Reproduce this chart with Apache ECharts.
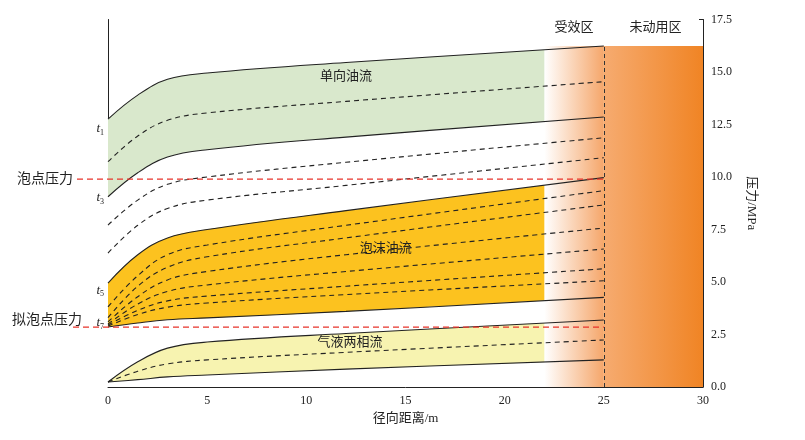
<!DOCTYPE html>
<html>
<head>
<meta charset="utf-8">
<script src="https://cdn.jsdelivr.net/npm/echarts@6/dist/echarts.min.js"></script>
<style>html,body{margin:0;background:#fff}#main{width:805px;height:440px}</style>
</head>
<body>
<div id="main"></div>
<script>
var FONT = '"Liberation Serif", "Noto Sans CJK SC", serif'
var xs = [0, 1.5, 3, 5, 12, 25]
// pressure curves (MPa) sampled at xs
var curveA = [12.76, 13.9, 14.65, 14.95, 15.45, 16.24]
var curveB = [10.73, 11.95, 12.7, 13.05, 13.6, 14.54]
var curveC = [9.06, 10.2, 10.95, 11.3, 11.9, 12.86]
var curveD = [7.71, 8.9, 9.65, 10.0, 10.7, 11.87]
var curveE = [6.38, 7.7, 8.5, 8.9, 9.6, 10.92]
var curveF = [4.95, 6.3, 7.1, 7.5, 8.4, 9.97]
var curveG = [3.82, 5.3, 6.3, 6.76, 7.7, 9.35]
var curveH = [3.3, 4.8, 5.7, 6.2, 7.1, 8.67]
var curveI = [3.1, 4.3, 5.1, 5.5, 6.3, 7.57]
var curveJ = [3.0, 3.95, 4.55, 4.86, 5.5, 6.57]
var curveK = [2.95, 3.65, 4.1, 4.33, 4.8, 5.63]
var curveL = [2.9, 3.45, 3.8, 4.0, 4.4, 5.06]
var curveM = [2.86, 3.05, 3.2, 3.29, 3.6, 4.27]
var curveN = [0.24, 1.2, 1.85, 2.14, 2.55, 3.19]
var curveO = [0.24, 0.75, 1.1, 1.29, 1.65, 2.24]
var curveP = [0.24, 0.35, 0.48, 0.57, 0.85, 1.29]
var solidCurves = [curveA, curveC, curveF, curveM, curveN, curveP]
var dashedCurves = [curveB, curveD, curveE, curveG, curveH, curveI, curveJ, curveK, curveL, curveO]
var bubblePoint = 9.9
var pseudoBubblePoint = 2.85
var effectEdge = 22
var wellEdge = 25
var topPressure = 16.24
var tLabels = [['1', 12.3], ['3', 9.0], ['5', 4.6], ['7', 3.05]]
// zones: [from, to, top]
var zoneData = [[effectEdge, wellEdge, topPressure], [wellEdge, 30, topPressure]]
var zoneColors = [['#ffffff', '#f5a66a'], ['#f6ab70', '#f08424']]

function pts (arr) { return xs.map(function (x, i) { return [x, arr[i]] }) }

var series = []
// fills painted top-down: upper curve coloured, lower curve white on top
var fills = [[curveA, '#d9e8cc'], [curveC, '#ffffff'], [curveF, '#fcc21f'], [curveM, '#ffffff'], [curveN, '#f7f3b0'], [curveP, '#ffffff']]
fills.forEach(function (f) {
  series.push({ type: 'line', data: pts(f[0]), smooth: 0.4, symbol: 'none', lineStyle: { width: 0 }, areaStyle: { color: f[1], opacity: 1, origin: 'start' }, z: 1, silent: true })
})
series.push({
  type: 'custom', data: zoneData, z: 2, silent: true,
  renderItem: function (params, api) {
    var p0 = api.coord([api.value(0), 0])
    var p1 = api.coord([api.value(1), api.value(2)])
    var c = zoneColors[params.dataIndex]
    return {
      type: 'rect',
      shape: { x: p0[0], y: p1[1], width: p1[0] - p0[0], height: p0[1] - p1[1] },
      style: { fill: new echarts.graphic.LinearGradient(0, 0, 1, 0, [{ offset: 0, color: c[0] }, { offset: 1, color: c[1] }]) }
    }
  }
})
series.push({
  type: 'line', data: pts(curveP), symbol: 'none', lineStyle: { width: 0 }, z: 4, silent: true,
  markLine: {
    silent: true, symbol: 'none', label: { show: false },
    lineStyle: { color: '#333', type: [4, 3], width: 1 },
    data: [[{ coord: [wellEdge, 0] }, { coord: [wellEdge, topPressure] }]]
  }
})
solidCurves.forEach(function (c) {
  series.push({ type: 'line', data: pts(c), smooth: 0.4, symbol: 'none', lineStyle: { color: '#222', width: 1.1 }, z: 3 })
})
dashedCurves.forEach(function (c) {
  series.push({ type: 'line', data: pts(c), smooth: 0.4, symbol: 'none', lineStyle: { color: '#222', width: 1.1, type: [5, 4] }, z: 3 })
})

var chart = echarts.init(document.getElementById('main'))
chart.setOption({
  animation: false,
  textStyle: { fontFamily: FONT },
  grid: { left: 108, right: 102, top: 19.5, bottom: 53 },
  xAxis: {
    type: 'value', min: 0, max: 30, interval: 5,
    name: '径向距离/m', nameLocation: 'middle', nameGap: 24,
    nameTextStyle: { fontSize: 13, color: '#222', fontFamily: FONT },
    axisLine: { onZero: false, lineStyle: { color: '#222' } },
    axisTick: { inside: true, length: 4, lineStyle: { color: '#222' } },
    axisLabel: { color: '#222', fontSize: 12 },
    splitLine: { show: false }
  },
  yAxis: [{
    type: 'value', min: 0, max: 17.5, interval: 2.5, position: 'right',
    name: '压力/MPa', nameLocation: 'middle', nameGap: 42, nameRotate: -90,
    nameTextStyle: { fontSize: 13, color: '#222', fontFamily: FONT },
    axisLine: { show: true, onZero: false, lineStyle: { color: '#222' } },
    axisTick: { show: true, inside: true, length: 4, lineStyle: { color: '#222' } },
    axisLabel: { color: '#222', fontSize: 12, formatter: function (v) { return v.toFixed(1) } },
    splitLine: { show: false }
  }, {
    type: 'value', min: 0, max: 17.5, position: 'left',
    axisLine: { show: true, onZero: false, lineStyle: { color: '#222' } },
    axisTick: { show: false }, axisLabel: { show: false }, splitLine: { show: false }
  }],
  series: series
})

function px (x, y) { return chart.convertToPixel({ xAxisIndex: 0, yAxisIndex: 0 }, [x, y]) }
var g = []
// [value, label, line start offset, label right offset, label dy]
;[[bubblePoint, '泡点压力', 31, 35, 0], [pseudoBubblePoint, '拟泡点压力', 35, 26, -7]].forEach(function (d) {
  var a = px(0, d[0]); var b = px(wellEdge, d[0])
  g.push({ type: 'line', shape: { x1: a[0] - d[2], y1: a[1], x2: b[0], y2: b[1] }, style: { stroke: '#e8332a', lineWidth: 1.3, lineDash: [6, 4] }, z: 10 })
  g.push({ type: 'text', x: a[0] - d[3], y: a[1] + d[4], style: { text: d[1], align: 'right', verticalAlign: 'middle', fontSize: 14, fill: '#222', fontFamily: FONT }, z: 10 })
})
tLabels.forEach(function (t) {
  var p = px(0, t[1])
  g.push({ type: 'text', x: p[0] - 4, y: p[1], style: { text: '{t|t}{s|' + t[0] + '}', align: 'right', verticalAlign: 'middle', rich: { t: { fontStyle: 'italic', fontSize: 13, fontFamily: FONT, fill: '#222' }, s: { fontSize: 8, fontFamily: FONT, fill: '#222', padding: [8, 0, 0, 0] } } }, z: 10 })
})
;[[12, 14.8, '单向油流'], [14, 6.6, '泡沫油流'], [12.2, 2.1, '气液两相流'], [23.5, 17.1, '受效区'], [27.6, 17.1, '未动用区']].forEach(function (d) {
  var p = px(d[0], d[1])
  g.push({ type: 'text', x: p[0], y: p[1], style: { text: d[2], align: 'center', verticalAlign: 'middle', fontSize: 13, fill: '#222', fontFamily: FONT }, z: 10 })
})
chart.setOption({ graphic: g })
</script>
</body>
</html>
